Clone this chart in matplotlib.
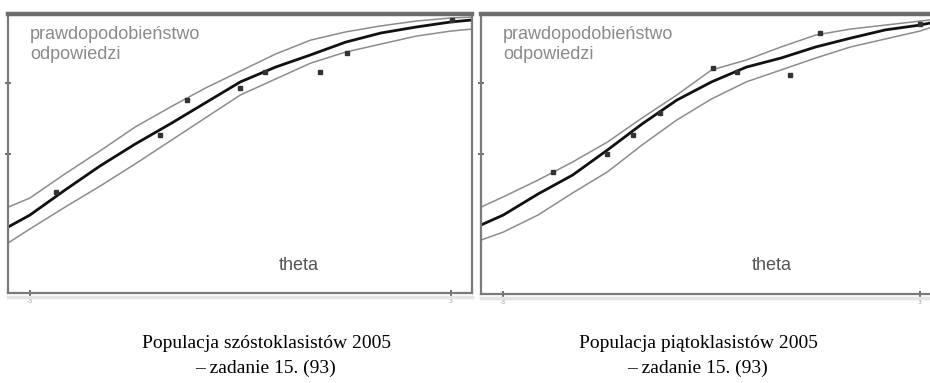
import matplotlib
matplotlib.use("Agg")
import matplotlib.pyplot as plt
from matplotlib.lines import Line2D

theta_left = [-3.31, -3.0, -2.5, -2.0, -1.5, -1.0, -0.5, 0.0, 0.5, 1.0, 1.5, 2.0, 2.5, 3.0, 3.30]
theta_right = [-3.32, -3.0, -2.5, -2.0, -1.5, -1.0, -0.5, 0.0, 0.5, 1.0, 1.5, 2.0, 2.5, 3.0, 3.14]

# szóstoklasiści (left panel)
icc_left = [0.243, 0.285, 0.373, 0.458, 0.535, 0.606, 0.680, 0.754, 0.806, 0.849, 0.894, 0.926, 0.947, 0.965, 0.972]
upper_left = [0.313, 0.345, 0.430, 0.511, 0.595, 0.665, 0.732, 0.792, 0.852, 0.901, 0.930, 0.951, 0.968, 0.979, 0.982]
lower_left = [0.187, 0.236, 0.313, 0.387, 0.465, 0.546, 0.627, 0.708, 0.764, 0.820, 0.859, 0.887, 0.915, 0.933, 0.940]
obs_theta_left = [-2.62, -1.15, -0.76, -0.01, 0.35, 1.13, 1.52, 3.01]
obs_p_left = [0.366, 0.567, 0.690, 0.732, 0.789, 0.789, 0.856, 0.972]

# piątoklasiści (right panel)
icc_right = [0.250, 0.285, 0.359, 0.426, 0.514, 0.606, 0.690, 0.754, 0.806, 0.838, 0.877, 0.908, 0.937, 0.954, 0.961]
upper_right = [0.313, 0.349, 0.408, 0.472, 0.542, 0.627, 0.708, 0.796, 0.831, 0.877, 0.919, 0.940, 0.954, 0.968, 0.972]
lower_right = [0.197, 0.225, 0.285, 0.363, 0.437, 0.532, 0.620, 0.694, 0.754, 0.796, 0.838, 0.877, 0.905, 0.933, 0.944]
obs_theta_right = [-2.28, -1.50, -1.13, -0.74, 0.02, 0.37, 1.13, 1.56, 3.0]
obs_p_right = [0.437, 0.500, 0.567, 0.644, 0.803, 0.789, 0.778, 0.926, 0.958]

captions = [
    "Populacja szóstoklasistów 2005\n\u2013 zadanie 15. (93)",
    "Populacja piątoklasistów 2005\n\u2013 zadanie 15. (93)",
]

frame = "#7a7a7a"
band = "#8c8c8c"

fig = plt.figure(figsize=(9.3, 3.83), dpi=100)

panels = [
    (fig.add_axes([8 / 930, 90 / 383, 464 / 930, 279 / 383]),
     theta_left, icc_left, upper_left, lower_left, obs_theta_left, obs_p_left,
     (-3.31, 3.30), (0.011, 0.993)),
    (fig.add_axes([481 / 930, 89 / 383, 464 / 930, 280 / 383]),
     theta_right, icc_right, upper_right, lower_right, obs_theta_right, obs_p_right,
     (-3.32, 3.36), (0.007, 0.993)),
]

for ax, th, icc, up, lo, ot, op, xl, yl in panels:
    ax.plot(th, up, color=band, lw=1.1)
    ax.plot(th, lo, color=band, lw=1.1)
    ax.plot(th, icc, color="#111111", lw=2.0)
    ax.plot(ot, op, ls="none", marker="s", ms=2.2, color="#333333")
    ax.set_xlim(*xl)
    ax.set_ylim(*yl)

    for side in ["left", "bottom", "right"]:
        ax.spines[side].set_color(frame)
        ax.spines[side].set_linewidth(1.6)
    ax.spines["top"].set_color("#6e6e6e")
    ax.spines["top"].set_linewidth(3.2)

    ax.set_xticks([-3, 3])
    ax.set_xticklabels(["-3", "3"])
    ax.set_yticks([0.5, 0.75])
    ax.set_yticklabels([])
    ax.tick_params(direction="inout", length=5, width=1.2, color="#555555",
                   labelsize=4.5, labelcolor="#999999", pad=2)

    ax.text(0.047, 0.957, "prawdopodobieństwo\nodpowiedzi", transform=ax.transAxes,
            ha="left", va="top", fontsize=13, color="#8a8a8a",
            family="Liberation Sans", linespacing=1.2)
    ax.text(0.583, 0.10, "theta", transform=ax.transAxes, ha="left", va="center",
            fontsize=13, color="#555555", family="Liberation Sans")

# light strip under the bottom axis lines
fig.add_artist(Line2D([8 / 930, 472 / 930], [86 / 383, 86 / 383], color="#e4e4e4", lw=2.5))
fig.add_artist(Line2D([481 / 930, 1.0], [85 / 383, 85 / 383], color="#e4e4e4", lw=2.5))

fig.text(266 / 930, 1 - 356 / 383, captions[0], ha="center", va="center",
         fontsize=14, family="Liberation Serif", linespacing=1.65)
fig.text(698 / 930, 1 - 356 / 383, captions[1], ha="center", va="center",
         fontsize=14, family="Liberation Serif", linespacing=1.65)

fig.savefig("out.png", dpi=100)
